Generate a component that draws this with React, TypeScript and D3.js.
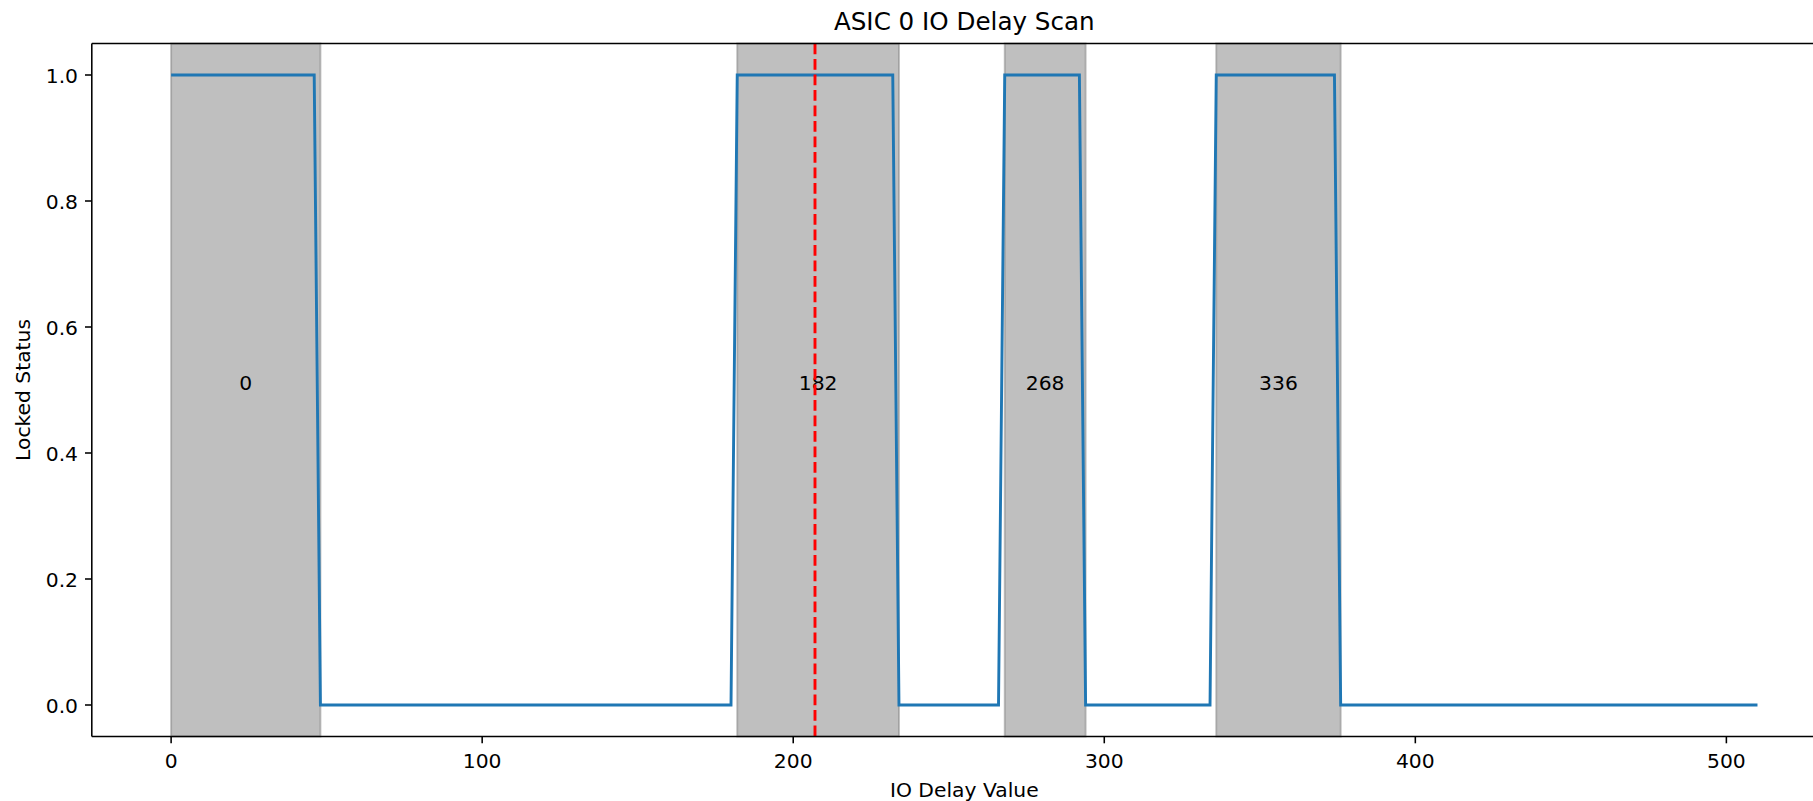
import React from "react";
import * as d3 from "d3";

// Line vertices of the locked-status scan (IO delay value, locked status)
const delayValues = [0, 46, 48, 180, 182, 232, 234, 266, 268, 292, 294, 334, 336, 374, 376, 510];
const lockedStatus = [1, 1, 0, 0, 1, 1, 0, 0, 1, 1, 0, 0, 1, 1, 0, 0];

// Locked windows (shaded)
const windowStarts = [0, 182, 268, 336];
const windowEnds = [48, 234, 294, 376];
const windowLabels = ["0", "182", "268", "336"];

// Chosen delay (center of widest window)
const bestDelay = [207];

const xTicks = [0, 100, 200, 300, 400, 500];
const yTicks = [0.0, 0.2, 0.4, 0.6, 0.8, 1.0];

const W = 1813;
const H = 801;
const FONT = "DejaVu Sans, sans-serif";
const FS = 20.3;

export default function App() {
  const left = 91.8;
  const right = 1836.8;
  const top = 43.5;
  const bottom = 736.5;

  const x = d3.scaleLinear().domain([-25.5, 535.5]).range([left, right]);
  const y = d3.scaleLinear().domain([-0.05, 1.05]).range([bottom, top]);

  const pts: [number, number][] = delayValues.map((d, i) => [d, lockedStatus[i]]);
  const line = d3
    .line<[number, number]>()
    .x((d) => x(d[0]))
    .y((d) => y(d[1]));

  return (
    <svg
      width={W}
      height={H}
      style={{ position: "absolute", left: 0, top: 0, background: "#fff" }}
      fontFamily={FONT}
    >
      <rect x={0} y={0} width={W} height={H} fill="#fff" />
      {/* shaded windows */}
      {windowStarts.map((s, i) => (
        <rect
          key={"w" + i}
          x={x(s)}
          y={top}
          width={x(windowEnds[i]) - x(s)}
          height={bottom - top}
          fill="#808080"
          fillOpacity={0.5}
          stroke="#808080"
          strokeOpacity={0.5}
          strokeWidth={1.9}
        />
      ))}
      {/* series line */}
      <path d={line(pts) || ""} fill="none" stroke="#1f77b4" strokeWidth={2.9} strokeLinejoin="miter" />
      {/* window labels */}
      {windowStarts.map((s, i) => (
        <text
          key={"l" + i}
          x={x((s + windowEnds[i]) / 2)}
          y={y(0.5)}
          textAnchor="middle"
          fontSize={FS}
          fill="#000"
        >
          {windowLabels[i]}
        </text>
      ))}
      {/* best delay line */}
      {bestDelay.map((b, i) => (
        <line
          key={"b" + i}
          x1={x(b)}
          x2={x(b)}
          y1={top}
          y2={bottom}
          stroke="red"
          strokeWidth={2.9}
          strokeDasharray="10.8,4.7"
        />
      ))}
      {/* spines */}
      <line x1={left} x2={right} y1={top} y2={top} stroke="#000" strokeWidth={1.56} />
      <line x1={left} x2={right} y1={bottom} y2={bottom} stroke="#000" strokeWidth={1.56} />
      <line x1={left} x2={left} y1={top} y2={bottom} stroke="#000" strokeWidth={1.56} />
      <line x1={right} x2={right} y1={top} y2={bottom} stroke="#000" strokeWidth={1.56} />
      {/* x ticks */}
      {xTicks.map((t) => (
        <g key={"xt" + t}>
          <line x1={x(t)} x2={x(t)} y1={bottom} y2={bottom + 6.8} stroke="#000" strokeWidth={1.56} />
          <text x={x(t)} y={767.5} textAnchor="middle" fontSize={FS} fill="#000">
            {String(t)}
          </text>
        </g>
      ))}
      {/* y ticks */}
      {yTicks.map((t) => (
        <g key={"yt" + t}>
          <line x1={left - 6.8} x2={left} y1={y(t)} y2={y(t)} stroke="#000" strokeWidth={1.56} />
          <text x={78} y={y(t) + 7.6} textAnchor="end" fontSize={FS} fill="#000">
            {t.toFixed(1)}
          </text>
        </g>
      ))}
      {/* labels */}
      <text x={(left + right) / 2} y={29.5} textAnchor="middle" fontSize={24.6} fill="#000">
        ASIC 0 IO Delay Scan
      </text>
      <text x={(left + right) / 2} y={797} textAnchor="middle" fontSize={FS} fill="#000">
        IO Delay Value
      </text>
      <text
        transform={`translate(30, ${(top + bottom) / 2}) rotate(-90)`}
        textAnchor="middle"
        fontSize={FS}
        fill="#000"
      >
        Locked Status
      </text>
    </svg>
  );
}
